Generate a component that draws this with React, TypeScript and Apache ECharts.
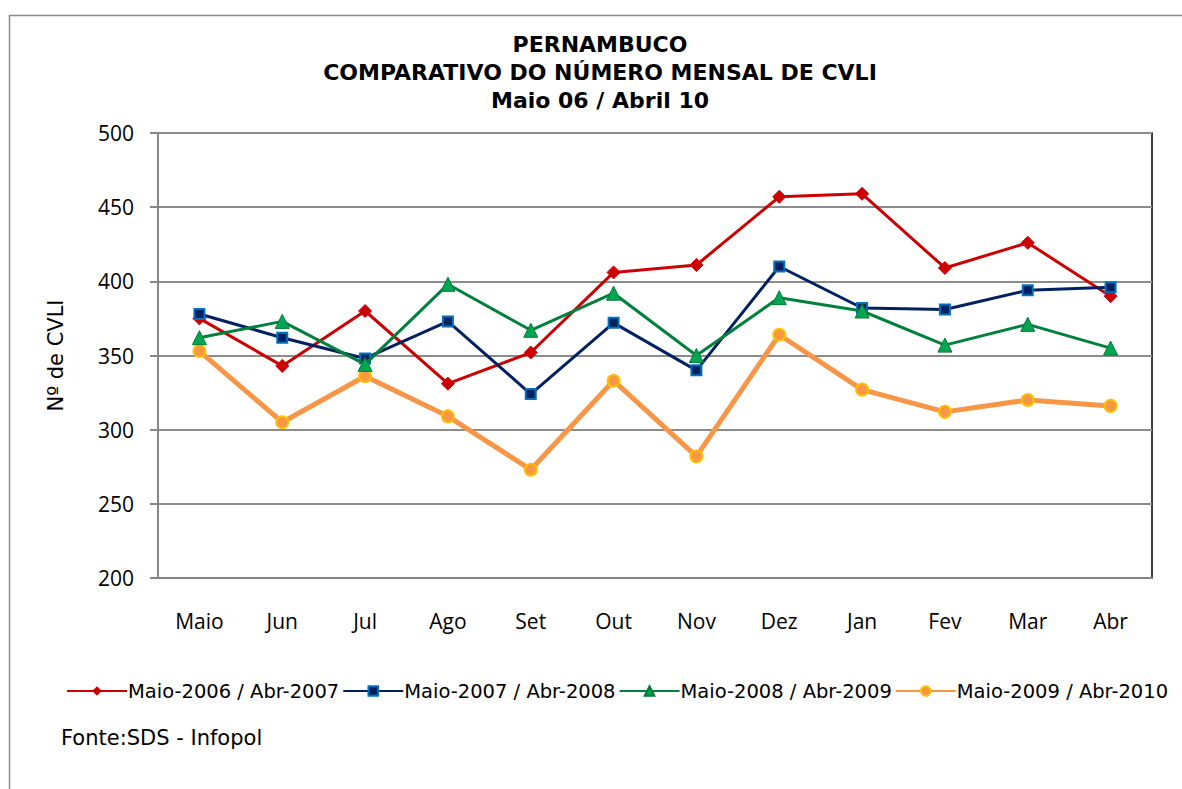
import React, { useEffect, useRef } from "react";
import * as echarts from "echarts";

const categories = ["Maio", "Jun", "Jul", "Ago", "Set", "Out", "Nov", "Dez", "Jan", "Fev", "Mar", "Abr"];
const seriesNames = [
  "Maio-2006 / Abr-2007",
  "Maio-2007 / Abr-2008",
  "Maio-2008 / Abr-2009",
  "Maio-2009 / Abr-2010",
];
const s2006 = [375, 343, 380, 331, 352, 406, 411, 457, 459, 409, 426, 390];
const s2007 = [378, 362, 348, 373, 324, 372, 340, 410, 382, 381, 394, 396];
const s2008 = [362, 373, 344, 398, 367, 392, 350, 389, 380, 357, 371, 355];
const s2009 = [353, 305, 336, 309, 273, 333, 282, 364, 327, 312, 320, 316];
const yTicks = { min: 200, max: 500, interval: 50 };

export default function App() {
  const ref = useRef<HTMLDivElement>(null);
  useEffect(() => {
    document.body.style.margin = "0";
    const chart = echarts.init(ref.current!, null, { renderer: "svg" });
    const axisFont = "'Open Sans', Lato, sans-serif";
    const textFont = "'DejaVu Sans', 'Liberation Sans', sans-serif";
    chart.setOption({
      animation: false,
      backgroundColor: "#fff",
      title: {
        text: "PERNAMBUCO\nCOMPARATIVO DO NÚMERO MENSAL DE CVLI\nMaio 06 / Abril 10",
        left: 595,
        top: 25,
        textAlign: "center",
        textStyle: {
          fontFamily: textFont,
          fontWeight: "bold",
          fontSize: 22,
          lineHeight: 28,
          color: "#000",
        },
      },
      graphic: [
        {
          type: "rect",
          shape: { x: 9.5, y: 15.5, width: 1300, height: 900 },
          style: { fill: "none", stroke: "#8c8c8c", lineWidth: 1.5 },
          silent: true,
          z: -1,
        },
        {
          type: "text",
          left: 61,
          top: 727,
          style: {
            text: "Fonte:SDS - Infopol",
            fontFamily: textFont,
            fontSize: 21,
            fill: "#000",
          },
        },
      ],
      grid: {
        left: 158,
        top: 133,
        width: 994,
        height: 445,
        show: true,
        borderColor: "#000",
        borderWidth: 1.5,
        backgroundColor: "transparent",
      },
      legend: {
        top: 681,
        left: 66,
        width: 1116,
        padding: 0,
        itemWidth: 60,
        itemHeight: 12,
        itemGap: 3,
        textStyle: {
          fontFamily: textFont,
          fontSize: 19.5,
          color: "#000",
          padding: [0, 0, 0, -4],
        },
        data: seriesNames,
      },
      xAxis: {
        type: "category",
        data: categories,
        boundaryGap: true,
        axisLine: { lineStyle: { color: "#868686", width: 2 } },
        axisTick: { show: false },
        axisLabel: {
          fontFamily: axisFont,
          fontSize: 21,
          color: "#000",
          margin: 32,
        },
      },
      yAxis: {
        type: "value",
        min: yTicks.min,
        max: yTicks.max,
        interval: yTicks.interval,
        name: "Nº de CVLI",
        nameLocation: "middle",
        nameGap: 92,
        nameRotate: 90,
        nameTextStyle: {
          fontFamily: textFont,
          fontSize: 21,
          color: "#000",
        },
        axisLine: { show: true, lineStyle: { color: "#868686", width: 2 } },
        axisTick: { show: true, length: 8, lineStyle: { color: "#868686", width: 2 } },
        splitLine: { lineStyle: { color: "#8c8c8c", width: 2 } },
        axisLabel: {
          fontFamily: axisFont,
          fontSize: 21,
          color: "#000",
          margin: 24,
        },
      },
      series: [
        {
          name: seriesNames[0],
          type: "line",
          data: s2006,
          symbol: "diamond",
          symbolSize: 13,
          z: 2,
          lineStyle: { color: "#CC0000", width: 3 },
          itemStyle: { color: "#CC0000", borderColor: "#CC0000" },
        },
        {
          name: seriesNames[1],
          type: "line",
          data: s2007,
          symbol: "rect",
          symbolSize: 10,
          z: 3,
          lineStyle: { color: "#002060", width: 3 },
          itemStyle: { color: "#002060", borderColor: "#0070C0", borderWidth: 2 },
        },
        {
          name: seriesNames[2],
          type: "line",
          data: s2008,
          symbol: "triangle",
          symbolSize: 14,
          z: 4,
          lineStyle: { color: "#00803C", width: 3 },
          itemStyle: { color: "#00A651", borderColor: "#007A37", borderWidth: 1 },
        },
        {
          name: seriesNames[3],
          type: "line",
          data: s2009,
          symbol: "circle",
          symbolSize: 12,
          z: 1,
          lineStyle: { color: "#F79646", width: 5 },
          itemStyle: { color: "#F79646", borderColor: "#FFC000", borderWidth: 2 },
        },
      ],
    });
    return () => chart.dispose();
  }, []);
  return <div ref={ref} style={{ width: 1182, height: 789 }} />;
}
